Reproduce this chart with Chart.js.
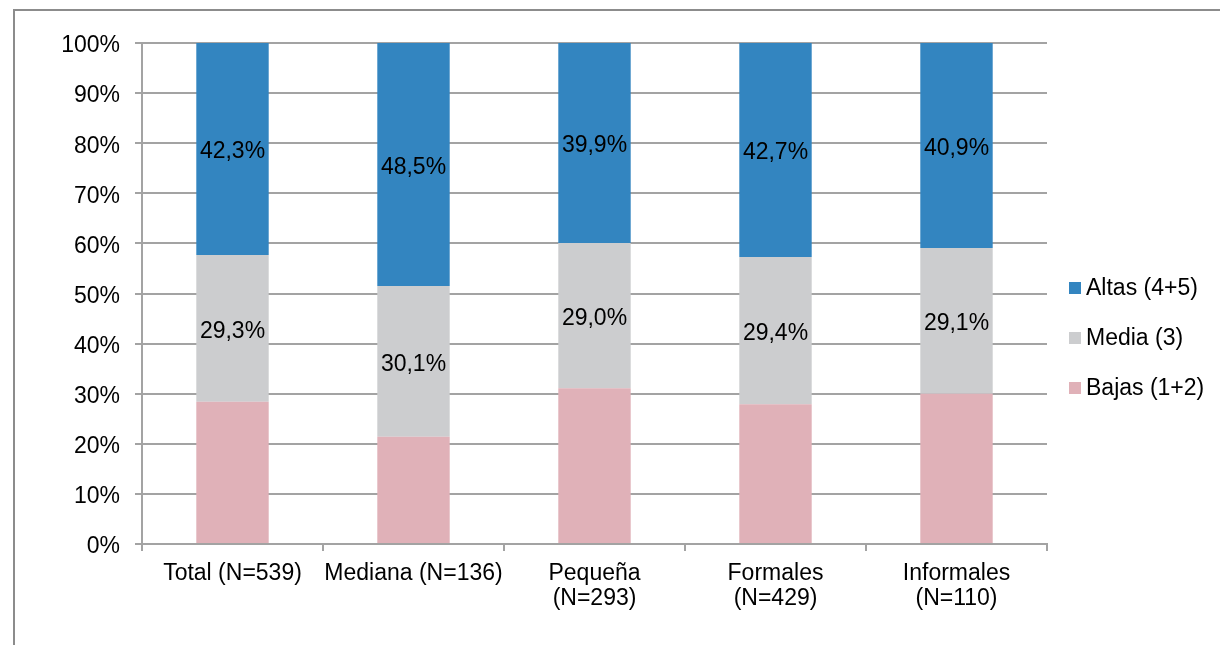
<!DOCTYPE html>
<html>
<head>
<meta charset="utf-8">
<script src="https://cdn.jsdelivr.net/npm/chart.js@4/dist/chart.umd.min.js"></script>
<style>
  html, body { margin: 0; padding: 0; background: #fff; overflow: hidden; }
  #wrap { position: relative; width: 1220px; height: 645px; }
  #frame { position: absolute; left: 13px; top: 9px; width: 1300px; height: 700px;
           border-left: 2px solid #8c8c8c; border-top: 2px solid #8c8c8c; }
  #legend { position: absolute; left: 1069px; top: 274px; font: 23px "Liberation Sans", Arial, sans-serif; color: #000; }
  .item { height: 50px; display: flex; align-items: flex-start; }
  .box { width: 12px; height: 12px; margin-top: 8px; margin-right: 5px; }
  canvas { position: absolute; left: 0; top: 0; }
</style>
</head>
<body>
<div id="wrap">
  <div id="frame"></div>
  <canvas id="chart" width="1220" height="645"></canvas>
  <div id="legend"></div>
</div>
<script>
// -------------------- DATA --------------------
const categories = [
  "Total (N=539)",
  "Mediana (N=136)",
  ["Pequeña", "(N=293)"],
  ["Formales", "(N=429)"],
  ["Informales", "(N=110)"]
];
const bajas = [28.4, 21.4, 31.1, 27.9, 30.0];
const media = [29.3, 30.1, 29.0, 29.4, 29.1];
const altas = [42.3, 48.5, 39.9, 42.7, 40.9];
const yTicks = [0, 10, 20, 30, 40, 50, 60, 70, 80, 90, 100];

const FONT = "'Liberation Sans', Arial, sans-serif";
const GRID = "#a3a3a3";

// -------------------- LABELS (values + y ticks, nudged down like the original) --------------------
const labelsPlugin = {
  id: "labelsPlugin",
  afterDatasetsDraw(chart) {
    const c = chart.ctx;
    c.save();
    c.font = "23px " + FONT;
    c.fillStyle = "#000";
    c.textBaseline = "middle";

    c.textAlign = "center";
    chart.data.datasets.forEach((ds, i) => {
      if (!ds.showLabel) return;
      chart.getDatasetMeta(i).data.forEach((bar, j) => {
        const y = (bar.y + bar.base) / 2 + 3;
        c.fillText(ds.data[j].toFixed(1).replace(".", ",") + "%", bar.x, y);
      });
    });

    const ys = chart.scales.y;
    c.textAlign = "right";
    yTicks.forEach(v => {
      c.fillText(v + "%", chart.chartArea.left - 22, ys.getPixelForValue(v) + 3);
    });
    c.restore();
  }
};

const ctx = document.getElementById("chart").getContext("2d");
const chart = new Chart(ctx, {
  type: "bar",
  data: {
    labels: categories,
    datasets: [
      { label: "Bajas (1+2)", data: bajas, backgroundColor: "#e0b1b8", showLabel: false },
      { label: "Media (3)", data: media, backgroundColor: "#cccdcf", showLabel: true },
      { label: "Altas (4+5)", data: altas, backgroundColor: "#3385c0", showLabel: true }
    ]
  },
  options: {
    responsive: false,
    animation: false,
    layout: { padding: { left: 0, right: 173, top: 43, bottom: 0 } },
    datasets: { bar: { barPercentage: 0.4, categoryPercentage: 1 } },
    plugins: { legend: { display: false }, tooltip: { enabled: false } },
    scales: {
      x: {
        stacked: true,
        afterFit: (s) => { s.height = 101; },
        grid: { drawOnChartArea: false, color: GRID, lineWidth: 2, tickLength: 7 },
        border: { color: GRID, width: 2 },
        ticks: { color: "#000", font: { family: FONT, size: 23, lineHeight: 1.1 }, padding: 10, maxRotation: 0, autoSkip: false }
      },
      y: {
        stacked: true,
        min: 0,
        max: 100,
        afterFit: (s) => { s.width = 142; },
        afterBuildTicks: (s) => { s.ticks = yTicks.map(v => ({ value: v })); },
        grid: { color: GRID, lineWidth: 2, tickLength: 7 },
        border: { color: GRID, width: 2 },
        ticks: { color: "rgba(0,0,0,0)", font: { family: FONT, size: 23 }, padding: 15, callback: (v) => v + "%" }
      }
    }
  },
  plugins: [labelsPlugin]
});

// -------------------- LEGEND --------------------
const legend = document.getElementById("legend");
chart.data.datasets.slice().reverse().forEach(ds => {
  const item = document.createElement("div");
  item.className = "item";
  item.innerHTML = '<span class="box" style="background:' + ds.backgroundColor + '"></span><span>' + ds.label + '</span>';
  legend.appendChild(item);
});
</script>
</body>
</html>
